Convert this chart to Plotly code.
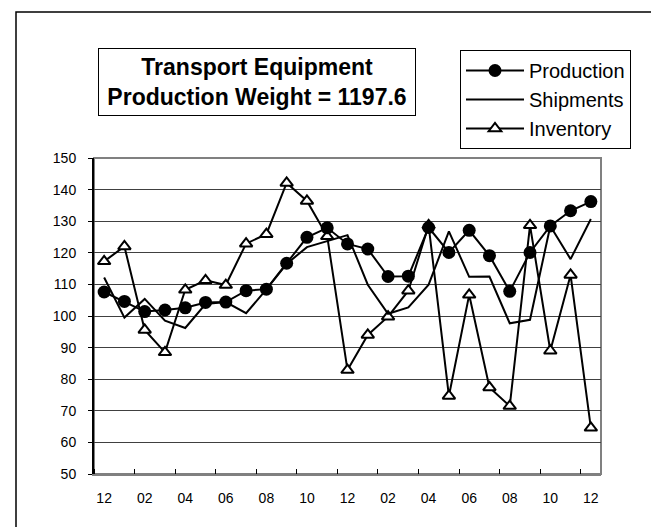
import plotly.graph_objects as go

# Monthly points, Dec to Dec over two years (25 points).
months = ["12", "01", "02", "03", "04", "05", "06", "07", "08", "09", "10", "11",
          "12", "01", "02", "03", "04", "05", "06", "07", "08", "09", "10", "11", "12"]

production = [107.6, 104.6, 101.4, 101.9, 102.6, 104.3, 104.4, 108.0, 108.5, 116.7,
              124.9, 127.9, 122.8, 121.2, 112.5, 112.6, 128.0, 120.1, 127.1, 119.1,
              107.8, 120.1, 128.5, 133.3, 136.2]
shipments = [112.2, 99.5, 105.4, 98.5, 96.2, 103.8, 104.4, 100.9, 108.4, 116.5,
             121.8, 123.8, 125.6, 109.9, 100.7, 102.7, 109.9, 126.8, 112.4, 112.5,
             97.7, 98.8, 128.5, 118.0, 130.7]
inventory = [117.3, 122.0, 95.6, 88.5, 108.3, 111.3, 109.8, 122.9, 125.9, 142.1,
             136.4, 125.2, 82.9, 94.0, 99.8, 108.0, 128.7, 74.7, 106.7, 77.4,
             71.5, 128.7, 89.0, 113.0, 64.6]

title_text = "Transport Equipment<br>Production Weight = 1197.6"

W, H = 659, 527
L, R, T, B = 86, 593, 150, 466
FONT = "Liberation Sans, Arial, sans-serif"


def px(x):
    return (x - L) / (R - L)


def py(y):
    return (B - y) / (B - T)


xs = list(range(len(months)))

fig = go.Figure()

fig.add_trace(go.Scatter(
    x=xs, y=inventory, mode="lines+markers", name="Inventory", legendrank=3,
    line=dict(color="black", width=2),
    marker=dict(symbol="triangle-up", size=11, color="white",
                line=dict(color="black", width=2)),
))
fig.add_trace(go.Scatter(
    x=xs, y=shipments, mode="lines", name="Shipments", legendrank=2,
    line=dict(color="black", width=2),
))
fig.add_trace(go.Scatter(
    x=xs, y=production, mode="lines+markers", name="Production", legendrank=1,
    line=dict(color="black", width=2),
    marker=dict(symbol="circle", size=13, color="black"),
))

# outer frame and plot-area border
fig.add_shape(type="rect", xref="paper", yref="paper",
              x0=px(8), x1=px(655.5), y0=py(524), y1=py(4),
              line=dict(color="black", width=1.5), layer="below")
fig.add_shape(type="rect", xref="paper", yref="paper",
              x0=0, x1=1, y0=0, y1=1,
              line=dict(color="#808080", width=2), layer="below")

fig.add_annotation(
    x=px(248.5), y=py(73.5), xref="paper", yref="paper",
    xanchor="center", yanchor="middle", showarrow=False,
    text=title_text, align="center",
    font=dict(family=FONT, size=23, color="black", weight="bold"),
    bordercolor="black", borderwidth=1, borderpad=2, bgcolor="white",
    width=312, height=62,
)

fig.update_layout(
    width=W, height=H,
    margin=dict(l=L, r=W - R, t=T, b=H - B),
    paper_bgcolor="white", plot_bgcolor="white",
    font=dict(family=FONT, size=14, color="black"),
    showlegend=True,
    legend=dict(
        x=px(452), y=py(42), xanchor="left", yanchor="top",
        bordercolor="black", borderwidth=1, bgcolor="white",
        font=dict(family=FONT, size=20, color="black"),
        itemwidth=58, tracegroupgap=0,
    ),
    xaxis=dict(
        range=[-0.5, len(months) - 0.5],
        tickvals=xs[::2], ticktext=months[::2],
        ticks="", showgrid=False, zeroline=False,
        showline=True, linecolor="#808080", linewidth=2,
        ticklabelstandoff=10,
        minor=dict(tick0=-0.5, dtick=2, ticks="inside", ticklen=5,
                   tickcolor="black", tickwidth=1, showgrid=False),
        tickfont=dict(size=14),
    ),
    yaxis=dict(
        range=[50, 150], dtick=10,
        ticks="outside", ticklen=4, tickcolor="black",
        showgrid=True, gridcolor="#404040", gridwidth=1, zeroline=False,
        showline=True, linecolor="black", linewidth=2,
        ticklabelstandoff=9,
        tickfont=dict(size=14),
    ),
)

fig.write_html("out.html")
